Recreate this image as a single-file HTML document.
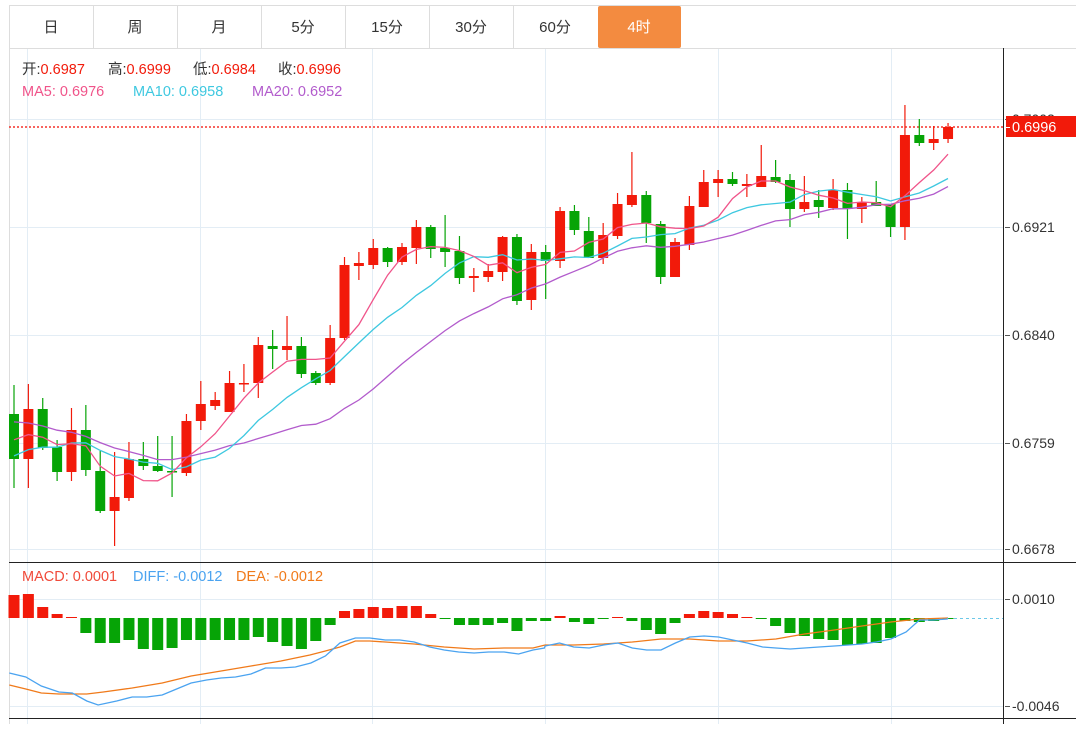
<!DOCTYPE html>
<html><head><meta charset="utf-8">
<style>
html,body{margin:0;padding:0;background:#fff;}
body{width:1076px;height:724px;overflow:hidden;position:relative;font-family:"Liberation Sans","Noto Sans CJK SC",sans-serif;}
svg text{font-family:"Liberation Sans","Noto Sans CJK SC",sans-serif;}
</style></head>
<body>
<svg id="s" width="1076" height="724" xmlns="http://www.w3.org/2000/svg">
<rect width="1076" height="724" fill="#fff"/>
<line x1="9" y1="5.5" x2="1076" y2="5.5" stroke="#ddd"/>
<line x1="9" y1="48.5" x2="1076" y2="48.5" stroke="#ddd"/>
<line x1="9.5" y1="5" x2="9.5" y2="48" stroke="#ddd"/>
<line x1="93.5" y1="5" x2="93.5" y2="48" stroke="#ddd"/>
<line x1="177.5" y1="5" x2="177.5" y2="48" stroke="#ddd"/>
<line x1="261.5" y1="5" x2="261.5" y2="48" stroke="#ddd"/>
<line x1="345.5" y1="5" x2="345.5" y2="48" stroke="#ddd"/>
<line x1="429.5" y1="5" x2="429.5" y2="48" stroke="#ddd"/>
<line x1="513.5" y1="5" x2="513.5" y2="48" stroke="#ddd"/>
<rect x="598" y="6" width="83" height="42" rx="2" fill="#f38b40"/>
<g font-size="15" fill="#333" text-anchor="middle">
<text x="51" y="32">日</text><text x="135" y="32">周</text><text x="219" y="32">月</text>
<text x="303" y="32">5分</text><text x="387" y="32">15分</text><text x="471" y="32">30分</text>
<text x="555" y="32">60分</text><text x="639" y="32" fill="#fff">4时</text>
</g>
<g id="grid"></g>
<g id="plot"></g>
<g font-size="14.5">
<text x="22" y="74" fill="#333">开:<tspan fill="#f21a0a">0.6987</tspan></text>
<text x="108" y="74" fill="#333">高:<tspan fill="#f21a0a">0.6999</tspan></text>
<text x="193" y="74" fill="#333">低:<tspan fill="#f21a0a">0.6984</tspan></text>
<text x="278" y="74" fill="#333">收:<tspan fill="#f21a0a">0.6996</tspan></text>
<text x="22" y="96" fill="#f0548a">MA5: 0.6976</text>
<text x="133" y="96" fill="#3ec8e0">MA10: 0.6958</text>
<text x="252" y="96" fill="#b25bcc">MA20: 0.6952</text>
<text x="22" y="581" fill="#f04a3a">MACD: 0.0001</text>
<text x="133" y="581" fill="#4aa3f0">DIFF: -0.0012</text>
<text x="236" y="581" fill="#f07a1a">DEA: -0.0012</text>
</g>
</svg>
<script>
var NS="http://www.w3.org/2000/svg";
function el(p,t,a){var e=document.createElementNS(NS,t);for(var k in a)e.setAttribute(k,a[k]);p.appendChild(e);return e;}
var G=document.getElementById('grid'),P=document.getElementById('plot');
[27.5,200.5,372.5,545.5,718.5,891.5].forEach(function(x){el(G,'line',{x1:x,y1:49,x2:x,y2:724,stroke:'#e3edf5'});});
[119.5,227.5,335.5,443.5,549.5,599.5,706.5].forEach(function(y){el(G,'line',{x1:9,y1:y,x2:1003,y2:y,stroke:'#e3edf5'});});
el(G,'line',{x1:9.5,y1:48,x2:9.5,y2:724,stroke:'#ddd'});
el(G,'line',{x1:1003.5,y1:48,x2:1003.5,y2:724,stroke:'#222'});
el(G,'line',{x1:9,y1:562.5,x2:1076,y2:562.5,stroke:'#222'});
el(G,'line',{x1:9,y1:718.5,x2:1076,y2:718.5,stroke:'#222'});
var labs=[[227,'0.6921'],[335,'0.6840'],[443,'0.6759'],[549,'0.6678'],[599,'0.0010'],[706,'-0.0046'],[119,'0.7002']];
labs.forEach(function(l){el(G,'line',{x1:1005,y1:l[0]+0.5,x2:1010,y2:l[0]+0.5,stroke:'#555'});var t=el(G,'text',{x:1012,y:l[0]+5,'font-size':14,fill:'#333'});t.textContent=l[1];});
var C=[[414,459,385,488,'g'],[409,459,384,488,'r'],[409,448,398,450,'g'],[447,472,440,481,'g'],[430,472,408,481,'r'],[430,470,405,476,'g'],[471,511,451,513,'g'],[497,511,452,546,'r'],[459,498,442,501,'r'],[459,466,442,470,'g'],[466,471,436,472,'g'],[471,472,436,497,'g'],[421,473,414,476,'r'],[404,421,381,430,'r'],[400,406,392,410,'r'],[383,412,371,412,'r'],[383,384,364,392,'r'],[345,383,337,398,'r'],[346,349,330,369,'g'],[346,350,316,360,'r'],[346,374,337,378,'g'],[373,383,371,385,'g'],[338,383,325,385,'r'],[265,338,257,340,'r'],[263,266,252,280,'r'],[248,265,239,269,'r'],[248,262,247,267,'g'],[247,262,243,265,'r'],[227,248,220,264,'r'],[227,249,225,258,'g'],[248,252,215,267,'g'],[251,278,236,284,'g'],[276,278,268,292,'r'],[271,277,264,282,'r'],[237,272,236,281,'r'],[237,301,234,305,'g'],[252,300,244,310,'r'],[252,261,245,299,'g'],[211,261,207,268,'r'],[211,230,205,235,'g'],[231,258,217,258,'g'],[235,258,223,264,'r'],[204,236,193,239,'r'],[195,205,152,207,'r'],[195,223,191,243,'g'],[224,277,221,284,'g'],[242,277,238,277,'r'],[206,245,196,250,'r'],[182,207,170,207,'r'],[179,183,170,197,'r'],[179,184,172,186,'g'],[184,186,174,197,'r'],[176,187,145,187,'r'],[177,182,160,183,'g'],[180,209,174,227,'g'],[202,209,176,212,'r'],[200,207,190,218,'g'],[190,208,179,210,'r'],[190,209,183,239,'g'],[202,209,197,223,'r'],[202,206,181,206,'g'],[204,227,204,237,'g'],[135,227,105,240,'r'],[135,143,119,146,'g'],[139,143,126,150,'r'],[127,139,123,143,'r']];
function X(i){return 14+i*14.37;}
var RED='#f21a0a',GRN='#06a406';
var cl=C.map(function(c){return c[4]=='r'?c[0]:c[1];});
var pre=[];for(var i=0;i<10;i++)pre.push(388);for(i=0;i<5;i++)pre.push(472);for(i=0;i<4;i++)pre.push(435);
var all=pre.concat(cl);
function ma(n){var pts=[];for(var i=0;i<cl.length;i++){var s=0;for(var k=0;k<n;k++)s+=all[i+19-k];pts.push(X(i).toFixed(1)+','+(s/n).toFixed(1));}return pts.join(' ');}
el(P,'line',{x1:9,y1:127,x2:1003,y2:127,stroke:'#f5312a','stroke-width':1.5,'stroke-dasharray':'2,2'});
C.forEach(function(c,i){var x=X(i),col=c[4]=='r'?RED:GRN;
 el(P,'line',{x1:x,y1:c[2],x2:x,y2:c[3],stroke:col,'stroke-width':1.2});
 el(P,'rect',{x:x-5,y:c[0],width:10,height:Math.max(1.5,c[1]-c[0]),fill:col});});
el(P,'polyline',{points:ma(20),fill:'none',stroke:'#b25bcc','stroke-width':1.3});
el(P,'polyline',{points:ma(10),fill:'none',stroke:'#3ec8e0','stroke-width':1.3});
el(P,'polyline',{points:ma(5),fill:'none',stroke:'#f0548a','stroke-width':1.3});
el(P,'rect',{x:1006,y:116,width:70,height:21,fill:'#f21a0a'});
el(P,'line',{x1:1005,y1:127.5,x2:1010,y2:127.5,stroke:'#fff'});
var t=el(P,'text',{x:1012,y:132,'font-size':14.5,fill:'#fff'});t.textContent='0.6996';
var H=[[595,'r'],[594,'r'],[607,'r'],[614,'r'],[617,'r'],[633],[643],[643],[640],[649],[650],[648],[640],[640],[640],[640],[640],[637],[642],[646],[649],[641],[625],[611,'r'],[609,'r'],[607,'r'],[608,'r'],[606,'r'],[606,'r'],[614,'r'],[619],[625],[625],[625],[623],[631],[621],[621],[616,'r'],[622],[624],[619],[617,'r'],[621],[630],[634],[623],[614,'r'],[611,'r'],[612,'r'],[614,'r'],[617,'r'],[619],[626],[633],[636],[639],[640],[645],[644],[643],[638],[621],[622],[621],[619]];
el(P,'line',{x1:948,y1:618.5,x2:1003,y2:618.5,stroke:'#6cc8e8','stroke-dasharray':'3,3'});
H.forEach(function(h,i){var x=X(i),y0=618;if(h[1]=='r'){el(P,'rect',{x:x-5.5,y:h[0],width:11,height:Math.max(1,y0-h[0]),fill:RED});}else{el(P,'rect',{x:x-5.5,y:y0,width:11,height:Math.max(1,h[0]-y0),fill:GRN});}});
var DIFF=[[9,673],[25,677],[40,686],[57,692],[70,693],[84,701],[95,705],[113,701],[128,697],[142,697],[157,695],[171,689],[185,683],[200,680],[214,678],[228,677],[243,674],[257,668],[272,668],[286,667],[301,663],[315,656],[329,643],[344,638],[358,638],[373,640],[387,640],[401,642],[416,647],[430,650],[444,652],[459,653],[473,652],[488,652],[502,654],[516,650],[527,648]];
var DIFF2=[[545,646],[559,643],[573,647],[588,648],[602,645],[616,643],[630,648],[644,650],[658,650],[672,643],[686,637],[700,636],[714,637],[728,640],[742,643],[757,647],[770,648],[784,649],[798,648],[812,647],[827,646],[841,645],[854,644],[868,642],[882,639],[897,632],[910,620],[923,620],[937,619],[948,618]];
var DEA=[[9,685],[25,689],[40,693],[57,694],[70,694],[84,694],[100,692],[128,688],[157,683],[185,676],[214,671],[243,666],[272,661],[300,655],[315,651],[329,647],[344,641],[358,641],[373,642],[401,644],[430,647],[459,649],[488,648],[516,648]];
var DEA2=[[545,645],[573,645],[602,644],[630,642],[658,639],[686,639],[714,641],[742,641],[770,639],[798,634],[827,630],[854,626],[882,622],[910,619],[948,618]];
function fx1(p){return [p[0]*1.033,p[1]];}
function fx2(p){return [540+(p[0]-540)*1.0256,p[1]];}
function pl(a,b){return a.map(fx1).concat(b.map(fx2)).map(function(p){return Math.min(p[0],948).toFixed(1)+','+p[1];}).join(' ');}
el(P,'polyline',{points:pl(DEA,DEA2),fill:'none',stroke:'#f07a1a','stroke-width':1.3});
el(P,'polyline',{points:pl(DIFF,DIFF2),fill:'none',stroke:'#4aa3f0','stroke-width':1.3});
</script>
</body></html>
